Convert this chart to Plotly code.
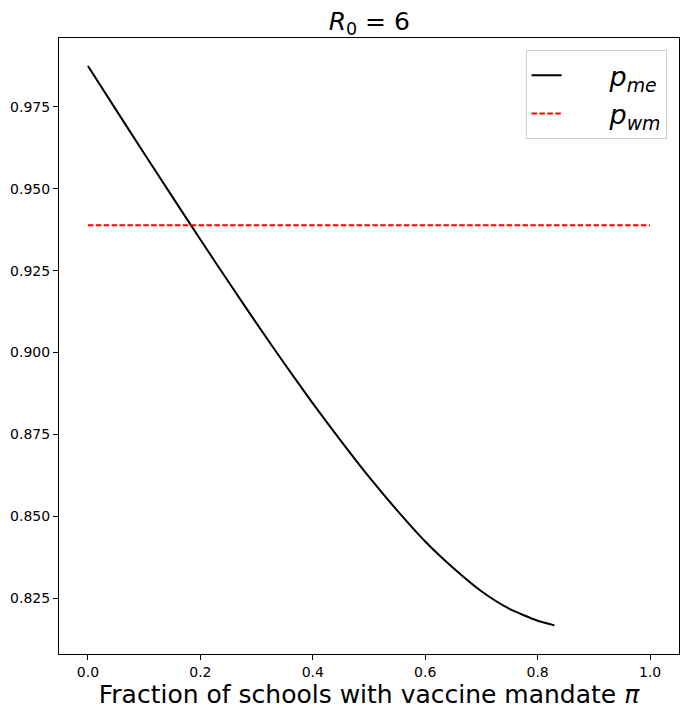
import plotly.graph_objects as go

# fraction of schools with a vaccine mandate (pi) and the two thresholds
pi_vals = [0.0, 0.05, 0.10, 0.15, 0.20, 0.25, 0.30, 0.35, 0.40, 0.45,
           0.50, 0.55, 0.60, 0.65, 0.70, 0.75, 0.80, 0.83]
p_me = [0.9875, 0.9741, 0.9608, 0.9476, 0.9345, 0.9216, 0.9089, 0.8965, 0.8845, 0.8730,
        0.8620, 0.8518, 0.8423, 0.8342, 0.8271, 0.8217, 0.8181, 0.8167]
wm_x = [0.0, 1.0]
wm_y = [0.9389, 0.9389]

FONT = "DejaVu Sans"
PAD = "&nbsp;" * 5

fig = go.Figure()
fig.add_trace(go.Scatter(
    x=pi_vals, y=p_me, mode="lines",
    line=dict(color="black", width=2, shape="spline", smoothing=0.6),
    name=PAD + "<i>p</i><sub><i>me</i></sub>",
))
fig.add_trace(go.Scatter(
    x=wm_x, y=wm_y, mode="lines",
    line=dict(color="red", width=2, dash="5.5px,2.4px"),
    name=PAD + "<i>p</i><sub><i>wm</i></sub>",
))

axis_common = dict(
    showline=True, linecolor="black", linewidth=1, mirror=True,
    ticks="outside", ticklen=5, tickcolor="black", tickwidth=1,
    showgrid=False, zeroline=False, automargin=False,
    tickfont=dict(family=FONT, size=14, color="black"),
)

# the page body adds an 8px offset, so the figure is a bit smaller than the window
fig.update_layout(
    width=681, height=709,
    margin=dict(l=51, r=10, t=30, b=63, autoexpand=False),
    paper_bgcolor="white", plot_bgcolor="white",
    font=dict(family=FONT, color="black"),
    title=dict(
        text="<i>R</i><sub>0</sub> = 6",
        x=(51.3 + 671.3) / 2 / 681, xanchor="center",
        y=1 - 13 / 709, yanchor="middle", automargin=False,
        font=dict(family=FONT, size=25, color="black"),
    ),
    xaxis=dict(
        range=[-0.0515, 1.0515],
        tickvals=[0.0, 0.2, 0.4, 0.6, 0.8, 1.0],
        ticktext=["0.0", "0.2", "0.4", "0.6", "0.8", "1.0"],
        title=dict(text="Fraction of schools with vaccine mandate <i>π</i>",
                   font=dict(family=FONT, size=25, color="black"), standoff=2),
        **axis_common,
    ),
    yaxis=dict(
        range=[0.80795, 0.99605],
        tickvals=[0.825, 0.850, 0.875, 0.900, 0.925, 0.950, 0.975],
        ticktext=["0.825", "0.850", "0.875", "0.900", "0.925", "0.950", "0.975"],
        **axis_common,
    ),
    legend=dict(
        x=0.98, y=0.98, xanchor="right", yanchor="top",
        bgcolor="white", bordercolor="#d0d0d0", borderwidth=1,
        entrywidth=145,
        font=dict(family=FONT, size=27, color="black"),
    ),
    showlegend=True,
)

fig.write_html("out.html")
